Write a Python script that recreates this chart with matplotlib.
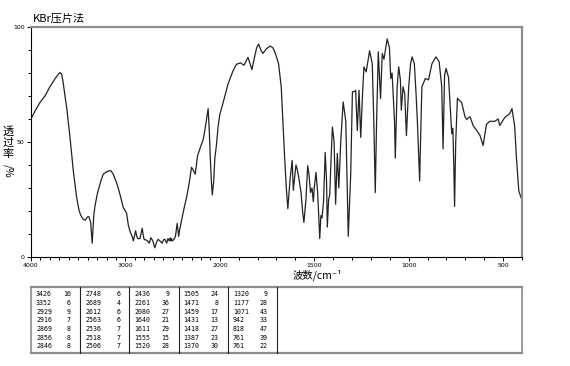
import matplotlib
matplotlib.use("Agg")
import matplotlib.pyplot as plt
import numpy as np

# IR spectrum: wavenumber (cm-1) and transmittance (%)
wavenumber = [4000, 3950, 3900, 3852, 3800, 3746, 3710, 3693, 3675, 3660, 3640, 3622,
              3587, 3552, 3517, 3490, 3471, 3450, 3426, 3400, 3386, 3368, 3352, 3335,
              3323, 3300, 3288, 3260, 3235, 3200, 3170, 3153, 3129, 3100, 3076, 3050,
              3023, 3000, 2987, 2970, 2950, 2929, 2916, 2900, 2892, 2880, 2869, 2856,
              2846, 2835, 2822, 2810, 2800, 2785, 2765, 2748, 2730, 2710, 2689, 2670,
              2653, 2635, 2612, 2595, 2582, 2563, 2550, 2536, 2527, 2518, 2512, 2506,
              2490, 2470, 2452, 2436, 2425, 2405, 2380, 2352, 2325, 2300, 2285, 2261,
              2245, 2236, 2212, 2177, 2159, 2140, 2124, 2112, 2100, 2090, 2080, 2065,
              2053, 2035, 2018, 2000, 1983, 1956, 1930, 1912, 1891, 1872, 1851, 1840,
              1830, 1816, 1805, 1795, 1783, 1772, 1754, 1733, 1720, 1711, 1700, 1689,
              1675, 1658, 1648, 1640, 1632, 1628, 1617, 1611, 1597, 1590, 1583, 1570,
              1562, 1555, 1544, 1535, 1528, 1520, 1512, 1505, 1500, 1491, 1482, 1471,
              1465, 1459, 1451, 1442, 1435, 1431, 1424, 1418, 1410, 1404, 1395, 1387,
              1378, 1370, 1360, 1347, 1333, 1320, 1307, 1298, 1285, 1281, 1272, 1263,
              1254, 1245, 1237, 1225, 1207, 1193, 1185, 1177, 1170, 1161, 1149, 1140,
              1131, 1114, 1102, 1095, 1088, 1075, 1071, 1061, 1053, 1044, 1039, 1030,
              1021, 1012, 1000, 990, 982, 970, 962, 954, 942, 936, 930, 912, 895, 877,
              856, 839, 825, 818, 810, 802, 789, 772, 766, 761, 757, 751, 742, 719,
              702, 693, 675, 658, 640, 623, 606, 588, 570, 544, 526, 518, 491, 465,
              453, 439, 430, 417, 406, 400]
transmittance = [60, 64, 67.5, 70, 74, 77.5, 79.5, 80.2, 79.5, 76, 70, 65,
                 52, 37.5, 26, 20, 18, 16.5, 16, 17.5, 17.5, 15, 6, 18,
                 22, 27, 29, 33, 36, 37, 37.5, 37.5, 36, 33, 30, 26,
                 21.5, 20, 19, 14, 11, 9, 7, 10, 11.4, 9, 8, 8,
                 8, 10, 12.5, 9, 7.5, 7.5, 7, 6, 8.4, 7, 4, 6.5,
                 7.7, 7, 6, 7.5, 7.7, 6, 8, 7, 8.3, 7, 8, 7,
                 7.5, 9, 14.6, 9, 12, 16, 21, 26, 32, 39, 38, 36,
                 41, 44, 47, 51, 55, 60, 64.5, 55, 42, 33, 27, 33,
                 43, 49, 57, 62, 67, 75.4, 81, 83.8, 84.4, 83.4, 86.8, 84,
                 81.5, 87, 91, 92.6, 90, 88.5, 90.5, 91.7, 91, 89.6, 87, 84,
                 74, 45, 30, 21, 30, 34, 42, 29, 40, 38, 35, 28,
                 20, 15, 25, 39.7, 36, 28, 30, 24, 30, 36.8, 28, 8,
                 18, 17, 24, 45.5, 33, 13, 25, 27, 45, 56.5, 50, 23,
                 45, 30, 50, 67.4, 59, 9, 36, 71.8, 72, 72.5, 55, 72.5,
                 52, 70, 82.7, 80.5, 89.7, 84, 60, 28, 59, 89.2, 68.9, 88.5,
                 86, 94.8, 91, 77.6, 80, 59, 43, 74, 82.7, 77, 63.8, 74,
                 71, 52.8, 74, 84, 87, 84, 72.5, 59, 33, 55, 74, 77.6, 77, 84,
                 87, 85, 74, 47, 79, 82, 78, 53.6, 56, 39, 22, 50, 69, 67,
                 61, 59.8, 61, 57, 55, 53, 48.5, 57.7, 59, 59, 60, 57.2, 60.7, 62.3,
                 64.5, 57, 44, 28.8, 26, 25]

# peak table (wavenumber, transmittance), five columns of seven rows
peak_cols = [
    [(3426, 16), (3352, 6), (2929, 9), (2916, 7), (2869, 8), (2856, 8), (2846, 8)],
    [(2748, 6), (2689, 4), (2612, 6), (2563, 6), (2536, 7), (2518, 7), (2506, 7)],
    [(2436, 9), (2261, 36), (2080, 27), (1640, 21), (1611, 29), (1555, 15), (1520, 28)],
    [(1505, 24), (1471, 8), (1459, 17), (1431, 13), (1418, 27), (1387, 23), (1370, 30)],
    [(1320, 9), (1177, 28), (1071, 43), (942, 33), (818, 47), (761, 39), (761, 22)],
]

x_major = [4000, 3000, 2000, 1500, 1000, 500]
y_major = [0, 50, 100]

W, H = 570, 366
cjk = ["Noto Sans CJK SC", "DejaVu Sans"]


def fx(x):
    return x / W


def fy(y):
    return 1 - y / H


def fwd(v):
    # 4000-2000 is drawn at half the scale of 2000-400
    v = np.asarray(v, dtype=float)
    return np.where(v >= 2000, v / 2 + 1000, v)


def inv(u):
    u = np.asarray(u, dtype=float)
    return np.where(u >= 2000, (u - 1000) * 2, u)


fig = plt.figure(figsize=(W / 100, H / 100), dpi=100)
ax = fig.add_axes([fx(31), fy(257), (522 - 31) / W, (257 - 27) / H])
ax.plot(wavenumber, transmittance, color="#222222", lw=0.9)
ax.set_xscale("function", functions=(fwd, inv))
ax.set_xlim(4000, 400)
ax.set_ylim(0, 100)
ax.set_xticks(x_major)
ax.set_xticks(np.arange(400, 4001, 100), minor=True)
ax.set_yticks(y_major)
ax.set_yticks(np.arange(0, 101, 10), minor=True)
ax.tick_params(which="both", direction="out", labelsize=4.5, length=3, width=0.7, pad=1.5)
ax.tick_params(which="minor", length=2)
ax.spines["top"].set_color("#8c8c8c")
ax.spines["right"].set_color("#8c8c8c")
ax.spines["top"].set_linewidth(1.6)
ax.spines["right"].set_linewidth(1.6)
ax.spines["left"].set_linewidth(0.8)
ax.spines["bottom"].set_linewidth(0.8)

fig.text(fx(33), fy(19), "KBr压片法", family=cjk, fontsize=8, va="center", ha="left")
fig.text(fx(293), fy(275), "波数/cm⁻¹", family=cjk, fontsize=7.5, va="center", ha="left")
for i, ch in enumerate("透过率"):
    fig.text(fx(8), fy(131 + 11.5 * i), ch, family=cjk, fontsize=8, va="center", ha="center")
fig.text(fx(8), fy(171), "/%", family=cjk, fontsize=7.5, va="center", ha="center", rotation=-90)

# peak table
tab_l, tab_r, tab_t, tab_b = 31, 522, 287, 353
col_w = 49.2
box = plt.Line2D
fig.add_artist(box([fx(tab_l), fx(tab_r)], [fy(tab_t), fy(tab_t)], color="#8c8c8c", lw=1.6))
fig.add_artist(box([fx(tab_l), fx(tab_r)], [fy(tab_b), fy(tab_b)], color="#8c8c8c", lw=1.6))
fig.add_artist(box([fx(tab_l), fx(tab_l)], [fy(tab_t), fy(tab_b)], color="#8c8c8c", lw=1.2))
fig.add_artist(box([fx(tab_r), fx(tab_r)], [fy(tab_t), fy(tab_b)], color="#8c8c8c", lw=1.2))
for c, col in enumerate(peak_cols):
    left = tab_l + col_w * c
    xdiv = left + col_w
    fig.add_artist(box([fx(xdiv), fx(xdiv)], [fy(tab_t), fy(tab_b)], color="#222222", lw=0.8))
    for r, (wn, tr) in enumerate(col):
        y = 294 + 8.75 * r
        fig.text(fx(left + 5), fy(y), str(wn), family="DejaVu Sans Mono", fontsize=4.8,
                 va="center", ha="left")
        fig.text(fx(left + 40), fy(y), str(tr), family="DejaVu Sans Mono", fontsize=4.8,
                 va="center", ha="right")

fig.savefig("out.png", dpi=100)
